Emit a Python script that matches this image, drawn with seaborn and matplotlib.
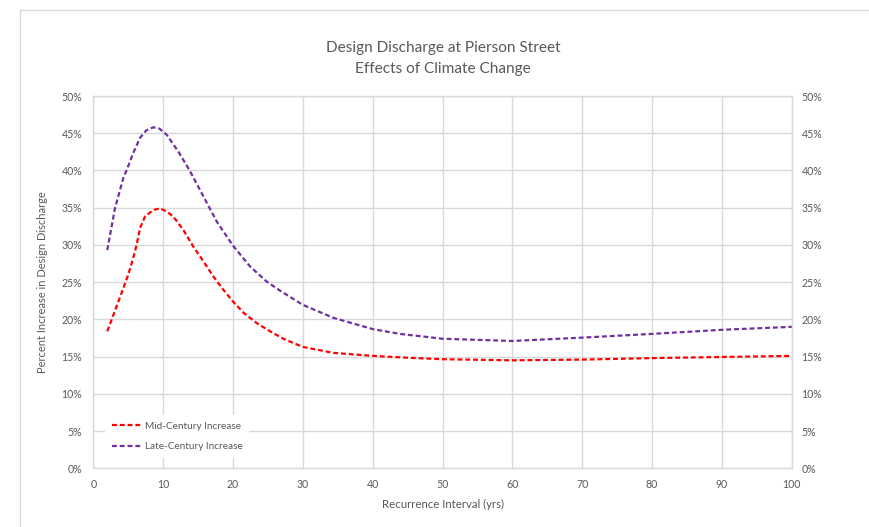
import matplotlib
matplotlib.use("Agg")
import matplotlib.pyplot as plt
import seaborn as sns
import pandas as pd
from matplotlib.patches import Rectangle
from matplotlib.ticker import FuncFormatter, MultipleLocator

# ---- data ----
mid_x = [2, 3.6, 5, 5.7, 6.2, 6.7, 7.4, 8.6, 9.55, 10.5, 11.46, 12.9, 14.3, 15.76, 17.2,
         18.6, 20, 21.5, 23.4, 25.3, 27.2, 30, 34.4, 40, 45, 50, 60, 70, 80, 90, 100]
mid_y = [18.4, 22.4, 26.0, 28.2, 30.0, 32.3, 33.8, 34.7, 34.9, 34.5, 33.8, 32.0, 29.8, 27.8, 25.75,
         24.0, 22.4, 20.9, 19.5, 18.4, 17.4, 16.3, 15.5, 15.1, 14.85, 14.65, 14.5, 14.6, 14.8, 14.95, 15.1]

late_x = [2, 3.1, 4.3, 4.8, 5.7, 6.7, 7.6, 8.6, 9.5, 10.5, 12.2, 13.85, 16.0, 17.7, 20, 22.45,
          24.8, 26.75, 30, 34.4, 40, 43.9, 50, 60, 70, 80, 90, 100]
late_y = [29.3, 34.9, 39.0, 40.1, 42.3, 44.4, 45.4, 45.8, 45.6, 44.8, 42.5, 39.9, 36.1, 33.1, 29.9, 27.1,
          25.1, 23.85, 21.95, 20.2, 18.7, 18.05, 17.4, 17.1, 17.55, 18.05, 18.6, 19.0]

series_names = ["Mid-Century Increase", "Late-Century Increase"]
series_colors = ["#FF0000", "#7030A0"]
title_text = "Design Discharge at Pierson Street\nEffects of Climate Change"
x_label = "Recurrence Interval (yrs)"
y_label = "Percent Increase in Design Discharge"

sns.set_theme(style="white")
plt.rcParams['font.family'] = ['Lato', 'DejaVu Sans']

W, H = 869, 527
fig = plt.figure(figsize=(W / 100, H / 100), dpi=100)
ax = fig.add_axes([93.3 / W, 1 - 468.3 / H, (791.7 - 93.3) / W, (468.3 - 96) / H])

df = pd.concat([
    pd.DataFrame({"x": mid_x, "y": mid_y, "series": series_names[0]}),
    pd.DataFrame({"x": late_x, "y": late_y, "series": series_names[1]}),
])

for name, col in zip(series_names, series_colors):
    sub = df[df["series"] == name]
    sns.lineplot(data=sub, x="x", y="y", ax=ax, color=col, lw=1.6,
                 linestyle=(0, (2.2, 1.3)), label=name, sort=False, zorder=3)

grid_c = "#D9D9D9"
ax.set_xlim(0, 100)
ax.set_ylim(0, 50)
ax.xaxis.set_major_locator(MultipleLocator(10))
ax.yaxis.set_major_locator(MultipleLocator(5))
pct = FuncFormatter(lambda v, p: f"{v:.0f}%")
ax.yaxis.set_major_formatter(pct)
ax.grid(True, color=grid_c, lw=1.0, zorder=0)
ax.set_axisbelow(True)
for s in ax.spines.values():
    s.set_color(grid_c)
    s.set_linewidth(1.0)

tick_c = "#595959"
ax.tick_params(axis="both", length=0, labelsize=7.6, colors=tick_c)
ax.tick_params(axis="y", pad=8)
ax.tick_params(axis="x", pad=8)
ax.set_xlabel(x_label, fontsize=8.2, color=tick_c, labelpad=6)
ax.set_ylabel(y_label, fontsize=8.0, color=tick_c, labelpad=10)

ax2 = ax.twinx()
ax2.set_ylim(0, 50)
ax2.yaxis.set_major_locator(MultipleLocator(5))
ax2.yaxis.set_major_formatter(pct)
ax2.tick_params(axis="y", length=0, labelsize=7.6, colors=tick_c, pad=7)
for s in ax2.spines.values():
    s.set_visible(False)
ax2.grid(False)

leg = ax.legend(loc="lower left", bbox_to_anchor=(0.0168, 0.0277), frameon=True,
                fontsize=7.2, handlelength=2.9, handletextpad=0.42, labelspacing=1.15,
                borderpad=0.65, borderaxespad=0, labelcolor=tick_c)
leg.get_frame().set_facecolor("white")
leg.get_frame().set_edgecolor("none")
leg.get_frame().set_alpha(1)
leg.set_zorder(5)

fig.text(443 / W, 1 - 58.5 / H, title_text, ha="center", va="center",
         fontsize=11.1, color=tick_c, linespacing=1.55)

fig.patches.append(Rectangle((19.5 / W, -0.1), 2, 1 - 9.5 / H + 0.1, transform=fig.transFigure,
                             fill=False, edgecolor="#D9D9D9", lw=1.0))

fig.savefig("out.png", dpi=100, facecolor="white")
